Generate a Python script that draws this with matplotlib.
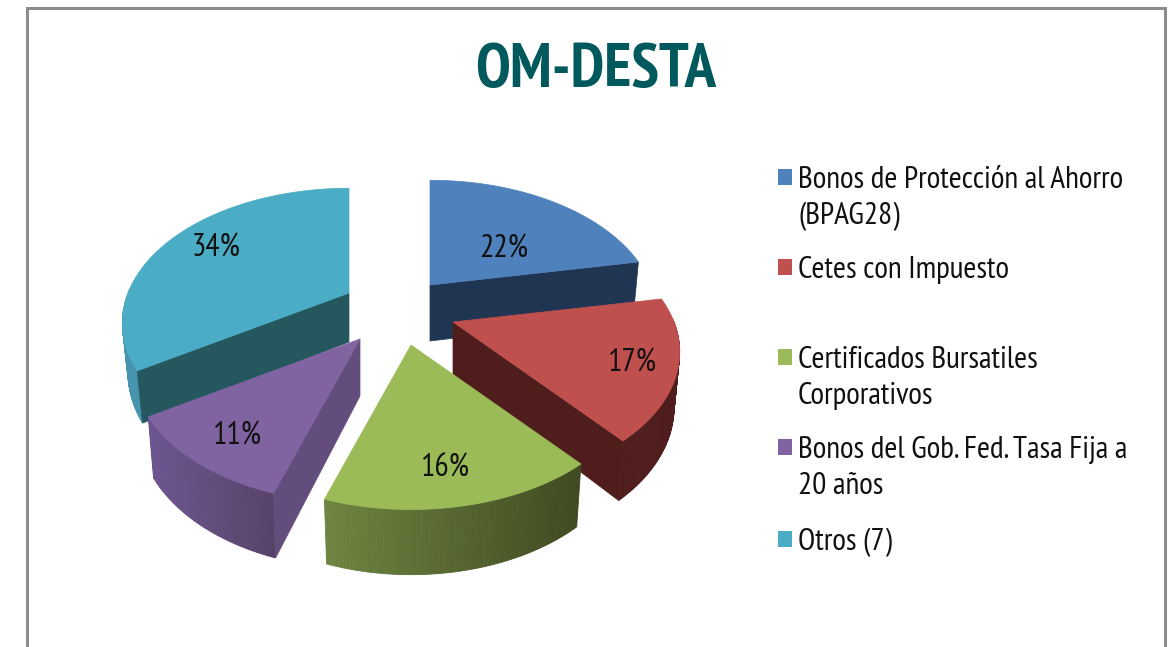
import numpy as np
import matplotlib
matplotlib.use("Agg")
import matplotlib.pyplot as plt
from matplotlib.colors import to_rgb
from matplotlib.patches import Polygon, Rectangle

TITLE = "OM-DESTA"
values = [22, 17, 16, 11, 34]
legend_labels = [
    "Bonos de Protección al Ahorro\n(BPAG28)",
    "Cetes con Impuesto",
    "Certificados Bursatiles\nCorporativos",
    "Bonos del Gob. Fed. Tasa Fija a\n20 años",
    "Otros (7)",
]

top_colors = ["#4f81bd", "#c0504d", "#9bbb59", "#8064a2", "#4bacc6"]
wall_colors = ["#1f3552", "#4f1e1c", "#3f4a20", "#634d7c", "#25575f"]
rim_left = ["#2f4d72", "#4f1e1c", "#6f8540", "#6d5690", "#4694ae"]
rim_right = ["#2f4d72", "#4f1e1c", "#3f4a20", "#564268", "#3d8aa2"]

# apex and wall height of each exploded slice, in pixels
apex = [(430, 285), (453, 322), (411, 345), (360, 339), (349, 293)]
heights = [56, 54, 57, 57, 49]
label_pos = [(504, 258), (632, 372), (445, 477), (237, 445), (216, 257)]
legend_y = [177, 267, 357, 447, 539]

RX, RY, K = 221, 128, 0.222
FONT = ["PT Sans Narrow", "Pragati Narrow", "Archivo Narrow", "Liberation Sans", "DejaVu Sans"]
TEXT_COLOR = "#111111"


def project(t, x0, y0):
    # t is clockwise from the back of the pie, simple perspective toward viewer
    X, Y = np.sin(t), -np.cos(t)
    s = 1 / (1 - K * Y)
    return x0 + RX * X * s, y0 + RY * Y * s, s, Y


def drop(x, y, s, x0, h):
    # bottom edge of the wall under a top-face point
    return x0 + (x - x0) * 0.975, y + h * (1 + 0.5 * (s - 1))


def fit_size(txt, width, **kw):
    # font size that makes txt come out width pixels wide
    t = ax.text(0, 0, txt, fontsize=20, **kw)
    w = t.get_window_extent(fig.canvas.get_renderer()).width
    t.remove()
    return 20 * width / w


fig = plt.figure(figsize=(11.70, 6.47), dpi=100)
ax = fig.add_axes([0, 0, 1, 1])
ax.set_xlim(0, 1170)
ax.set_ylim(647, 0)
ax.axis("off")

# outer frame, open at the bottom
ax.plot([26.5, 26.5, 1165, 1165], [647, 7.5, 7.5, 647], color="#8c8c8c", lw=2.2, solid_joinstyle="miter")

fracs = np.array(values) / sum(values)
edges = np.concatenate([[0], np.cumsum(fracs)]) * 2 * np.pi
label_size = fit_size("22%", 49, family=FONT)

for i in [4, 0, 1, 3, 2]:
    x0, y0 = apex[i]
    h = heights[i]
    t = np.linspace(edges[i], edges[i + 1], 90)
    x, y, s, Y = project(t, x0, y0)
    bx, by = drop(x, y, s, x0, h)

    # curved rim as thin shaded strips
    c0, c1 = np.array(to_rgb(rim_left[i])), np.array(to_rgb(rim_right[i]))
    for j in range(len(t) - 1):
        if Y[j] < -0.03:
            continue
        col = c0 + (c1 - c0) * ((x[j] - x.min()) / (x.max() - x.min()))
        quad = [(x[j], y[j]), (x[j + 1], y[j + 1]), (bx[j + 1], by[j + 1]), (bx[j], by[j])]
        ax.add_patch(Polygon(quad, closed=True, fc=col, ec=col, lw=0.6))

    # radial walls that face the viewer
    for k, sign in ((0, -1), (-1, 1)):
        if sign * (x[k] - x0) <= 1:
            continue
        ex, ey = drop(x[k], y[k], s[k], x0, h)
        wall = [(x0, y0), (x[k], y[k]), (ex, ey), (x0, y0 + h)]
        ax.add_patch(Polygon(wall, closed=True, fc=wall_colors[i], ec=wall_colors[i], lw=0.5))

    top = np.column_stack([np.r_[x0, x], np.r_[y0, y]])
    ax.add_patch(Polygon(top, closed=True, fc=top_colors[i], ec=top_colors[i], lw=0.5))

    ax.text(*label_pos[i], f"{values[i]}%", family=FONT, fontsize=label_size, color=TEXT_COLOR, ha="center", va="baseline")

# legend
legend_size = fit_size("Bonos de Protección al Ahorro", 325, family=FONT)
for i, lab in enumerate(legend_labels):
    yy = legend_y[i]
    ax.add_patch(Rectangle((778, yy - 8), 14, 16, fc=top_colors[i], ec="none"))
    for n, line in enumerate(lab.split("\n")):
        ax.text(798, yy + 11 + n * 36, line, family=FONT, fontsize=legend_size, color=TEXT_COLOR, ha="left", va="baseline")

title_size = fit_size(TITLE, 240, family=FONT, fontweight="bold")
ax.text(596, 87, TITLE, family=FONT, fontsize=title_size, fontweight="bold", color="#00595c", ha="center", va="baseline")

fig.savefig("out.png", dpi=100)
